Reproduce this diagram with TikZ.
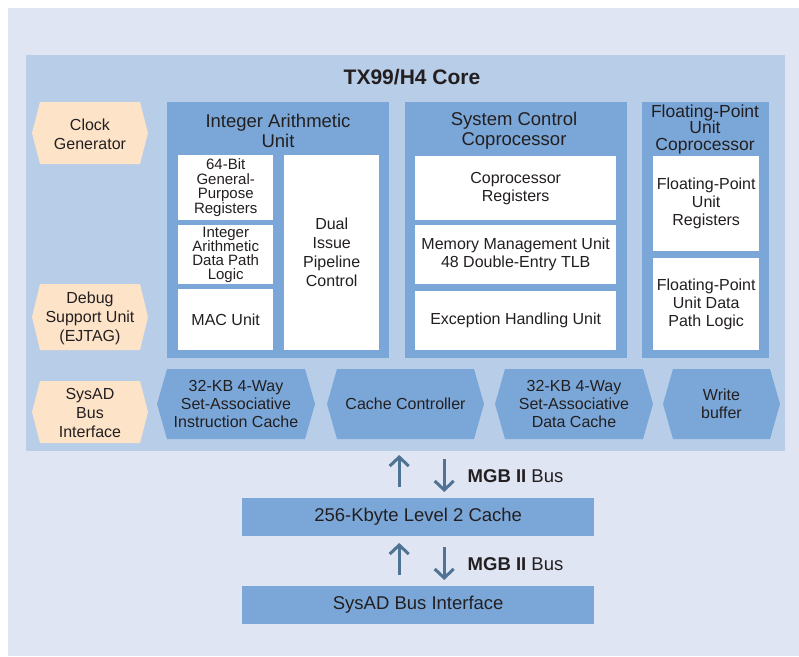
\documentclass[tikz,border=0pt]{standalone}
\usepackage{fontspec}
\setmainfont{Liberation Sans}
\usetikzlibrary{arrows.meta}
\definecolor{panel}{HTML}{DFE5F2}
\definecolor{corebg}{HTML}{B8CDE8}
\definecolor{unitbg}{HTML}{7BA7D8}
\definecolor{peach}{HTML}{FDE3C8}
\definecolor{ink}{HTML}{231F20}
\definecolor{busc}{HTML}{4E7393}
\newcommand{\fsz}[2]{\fontsize{#1}{#2}\selectfont}
\tikzset{
  unit/.style={fill=unitbg, inner sep=0pt, anchor=north west},
  cell/.style={fill=white, inner sep=0pt, anchor=north west, align=center, text=ink, font=\fsz{16}{18}},
  head/.style={align=center, text=ink, font=\fsz{18.5}{20}},
  hextext/.style={align=center, text=ink, font=\fsz{16}{19}},
  bustext/.style={text=ink, font=\fsz{18.5}{20}},
  busarrow/.style={draw=busc, line width=3pt, -{Straight Barb[length=9pt, width=19pt]}},
}

\begin{document}
\begin{tikzpicture}[x=1pt, y=-1pt]
  \useasboundingbox (0,0) rectangle (799,656);
  \fill[panel] (8,8) rectangle (799,656);
  \node[fill=corebg, inner sep=0pt, anchor=north west, minimum width=759pt, minimum height=396pt] (core) at (26,55) {};
  \node[text=ink, font=\fsz{21}{24}\bfseries] (coretitle) at (412,77) {TX99/H4 Core};
  % integer unit
  \node[unit, minimum width=222pt, minimum height=256pt] (iau) at (167,102) {};
  \node[head] (iautitle) at (278,131) {Integer Arithmetic\\Unit};
  \node[cell, minimum width=95pt, minimum height=65pt, font=\fsz{15}{14.5}] (gpr) at (178,155) {64-Bit\\General-\\Purpose\\Registers};
  \node[cell, minimum width=95pt, minimum height=59pt, font=\fsz{15}{14}] (iadp) at (178,225) {Integer\\Arithmetic\\Data Path\\Logic};
  \node[cell, minimum width=95pt, minimum height=61pt] (mac) at (178,289) {MAC Unit};
  \node[cell, minimum width=95pt, minimum height=195pt, font=\fsz{16}{19}] (dual) at (284,155) {Dual\\Issue\\Pipeline\\Control};
  % system control coprocessor
  \node[unit, minimum width=222pt, minimum height=256pt] (scc) at (405,102) {};
  \node[head] (scctitle) at (514,131) {System Control\\Coprocessor};
  \node[cell, minimum width=201pt, minimum height=64pt] (cpreg) at (415,156) {Coprocessor\\Registers};
  \node[cell, minimum width=201pt, minimum height=59pt] (mmu) at (415,225) {Memory Management Unit\\48 Double-Entry TLB};
  \node[cell, minimum width=201pt, minimum height=59pt] (exc) at (415,291) {Exception Handling Unit};
  % floating-point unit
  \node[unit, minimum width=127pt, minimum height=256pt] (fpu) at (642,102) {};
  \node[head, font=\fsz{17.5}{16.5}] (fputitle) at (705,129) {Floating-Point\\Unit\\Coprocessor};
  \node[cell, minimum width=106pt, minimum height=95pt] (fpreg) at (653,156) {Floating-Point\\Unit\\Registers};
  \node[cell, minimum width=106pt, minimum height=92pt] (fpdp) at (653,258) {Floating-Point\\Unit Data\\Path Logic};
  % left column
  \foreach \nm/\ya/\yb/\txt in {clk/102/164/{Clock\\Generator}, dbg/284/350/{Debug\\Support Unit\\(EJTAG)}, sysad/381/443/{SysAD\\Bus\\Interface}} {
    \fill[peach] (32,{(\ya+\yb)/2}) -- (40,\ya) -- (140,\ya) -- (148,{(\ya+\yb)/2}) -- (140,\yb) -- (40,\yb) -- cycle;
    \node[hextext] (\nm) at (90,{(\ya+\yb)/2+1}) {\txt};
  }
  % cache row
  \foreach \nm/\xa/\xb/\txt in {icache/157/315/{32-KB 4-Way\\Set-Associative\\Instruction Cache}, cctl/327/484/{Cache Controller}, dcache/495/653/{32-KB 4-Way\\Set-Associative\\Data Cache}, wbuf/663/780/{Write\\buffer}} {
    \fill[unitbg] (\xa,404) -- (\xa+10,369) -- (\xb-10,369) -- (\xb,404) -- (\xb-10,439) -- (\xa+10,439) -- cycle;
    \node[hextext, font=\fsz{16}{18}] (\nm) at ({(\xa+\xb)/2},404) {\txt};
  }
  % L2 and bus
  \node[unit, minimum width=352pt, minimum height=38pt, text=ink, font=\fsz{18.5}{20}] (l2) at (242,498) {256-Kbyte Level 2 Cache};
  \node[unit, minimum width=352pt, minimum height=38pt, text=ink, font=\fsz{18.5}{20}] (sysbus) at (242,586) {SysAD Bus Interface};
  \foreach \nd in {l2, sysbus} {
    \draw[busarrow] ([xshift=-19pt,yshift=11pt]\nd.north) -- ++(0pt,32pt);
    \draw[busarrow] ([xshift=26pt,yshift=39pt]\nd.north) -- ++(0pt,-33pt);
    \node[bustext, anchor=west] (\nd bus) at ([xshift=46pt,yshift=22pt]\nd.north) {\textbf{MGB II} Bus};
  }
\end{tikzpicture}
\end{document}
